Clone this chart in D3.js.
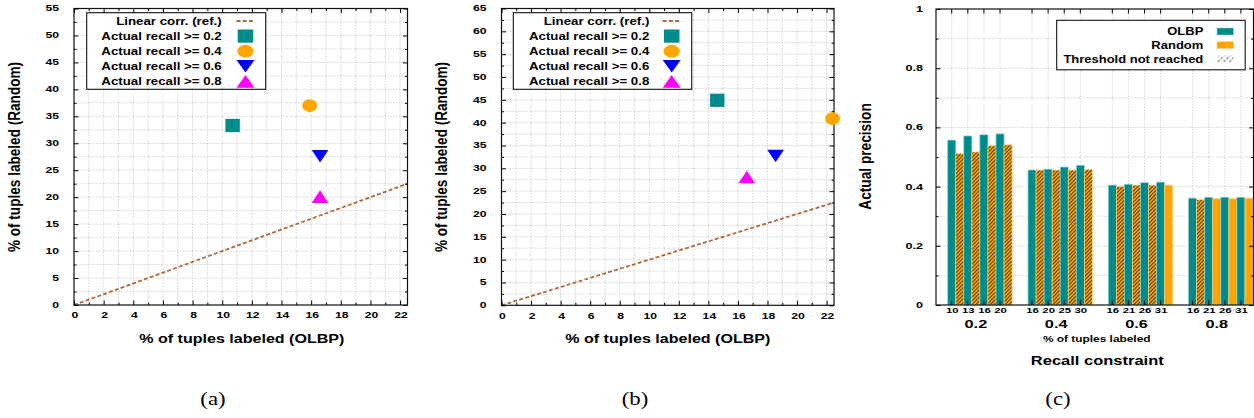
<!DOCTYPE html>
<html><head><meta charset="utf-8">
<script src="https://cdn.jsdelivr.net/npm/d3@7"></script>
<style>
html,body{margin:0;padding:0;background:#fff;}
svg{display:block;}
text{font-family:"Liberation Sans",Arial,Helvetica,sans-serif;fill:#000;}
</style></head><body>
<svg id="chart" width="1254" height="418"></svg>
<script>
// ---------------- data ----------------
const refLabel = "Linear corr. (ref.)";
const scatterLabels = ["Actual recall >= 0.2","Actual recall >= 0.4","Actual recall >= 0.6","Actual recall >= 0.8"];
const scatterShapes = ["square","circle","triDown","triUp"];
const scatterColors = ["#008B8B","#FFA500","#0000FF","#FF00FF"];
// panel (a)
const aOLBP   = [10.7, 15.9, 16.6, 16.6];
const aRandom = [33.3, 37.0, 27.6, 20.1];
// panel (b)
const bOLBP   = [14.6, 22.4, 18.55, 16.6];
const bRandom = [44.9, 40.9, 32.7, 28.1];
// reference line y = x
const refX = [0, 22.5];
const xTicksAB = [0,2,4,6,8,10,12,14,16,18,20,22];
const yTicksA = [0,5,10,15,20,25,30,35,40,45,50,55];
const yTicksB = [0,5,10,15,20,25,30,35,40,45,50,55,60,65];
// panel (c)
const recallGroups = ["0.2","0.4","0.6","0.8"];
const pctLabeled = [["10","13","16","20"],["16","20","25","30"],["16","21","26","31"],["16","21","26","31"]];
const precOLBP = [[0.557,0.571,0.575,0.578],[0.456,0.459,0.466,0.472],[0.405,0.408,0.413,0.415],[0.361,0.364,0.364,0.364]];
const precRandom = [[0.512,0.517,0.538,0.541],[0.456,0.456,0.456,0.458],[0.400,0.405,0.405,0.405],[0.356,0.359,0.359,0.361]];
const notReached = [[1,1,1,1],[1,1,1,1],[1,1,1,0],[1,0,0,0]];
const yTicksC = [0,0.2,0.4,0.6,0.8,1];
const yTickLabelsC = ["0","0.2","0.4","0.6","0.8","1"];
const seriesC = ["OLBP","Random","Threshold not reached"];

// ---------------- helpers ----------------
const svg = d3.select("#chart");
const defs = svg.append("defs");
const hatch = defs.append("pattern").attr("id","hatch").attr("patternUnits","userSpaceOnUse")
  .attr("width",2.6).attr("height",2.6).attr("patternTransform","rotate(45)");
hatch.append("rect").attr("width",2.6).attr("height",2.6).attr("fill","#FFA500");
hatch.append("line").attr("x1",0.5).attr("y1",0).attr("x2",0.5).attr("y2",2.6).attr("stroke","#1a1a1a").attr("stroke-width",0.8);
const hatchL = defs.append("pattern").attr("id","hatchL").attr("patternUnits","userSpaceOnUse")
  .attr("width",4).attr("height",4).attr("patternTransform","rotate(45)");
hatchL.append("rect").attr("width",4).attr("height",4).attr("fill","#fff");
hatchL.append("line").attr("x1",1).attr("y1",0).attr("x2",1).attr("y2",2.5).attr("stroke","#444").attr("stroke-width",1);

function label(g, x, y, s, o) {
  o = o || {};
  const sx = o.sx === undefined ? 1.33 : o.sx;
  return g.append("text")
    .attr("transform", `translate(${x},${y}) scale(${sx},1)` + (o.rot ? ` rotate(${o.rot})` : ""))
    .attr("text-anchor", o.anchor || "middle").attr("dy", "0.35em")
    .attr("font-size", o.size || 10).attr("font-weight", o.weight || "bold")
    .style("font-family", o.family || null).text(s);
}
function styleAxis(sel) {
  sel.select(".domain").remove();
  sel.selectAll(".tick line").attr("stroke","#000").attr("stroke-width",1);
}
const gridStyle = s => s.attr("stroke","#bdbdbd").attr("stroke-width",0.8).attr("stroke-dasharray","1.2,1.6");

function symbolPath(shape, w, h) {
  const a = w/2, b = h/2;
  if (shape === "triDown") return `M${-a},${-b}L${a},${-b}L0,${b}Z`;
  if (shape === "triUp") return `M${-a},${b}L${a},${b}L0,${-b}Z`;
  return "";
}
function drawSymbol(g, shape, cx, cy, color, big) {
  const k = big ? 1.08 : 1;
  if (shape === "square") g.append("rect").attr("x", cx-7.2*k).attr("y", cy-6.6).attr("width",14.4*k).attr("height",13.2).attr("fill",color);
  else if (shape === "circle") g.append("ellipse").attr("cx",cx).attr("cy",cy).attr("rx",7.5*k).attr("ry",6.4).attr("fill",color);
  else g.append("path").attr("transform",`translate(${cx},${cy})`).attr("d", symbolPath(shape, 16.7*k, 12.6)).attr("fill",color);
}

// ---------------- scatter panels ----------------
function scatter(c) {
  const g = svg.append("g");
  const x = d3.scaleLinear().domain([0, 22.5]).range([c.L, c.R]);
  const y = d3.scaleLinear().domain([0, c.yMax]).range([c.B, c.T]);
  // grid
  g.append("g").selectAll("line").data(d3.range(1, 23, 1)).join("line")
    .attr("x1", d => x(d)).attr("x2", d => x(d)).attr("y1", c.T).attr("y2", c.B).call(gridStyle);
  g.append("g").selectAll("line").data(d3.range(2.5, c.yMax, 2.5)).join("line")
    .attr("y1", d => y(d)).attr("y2", d => y(d)).attr("x1", c.L).attr("x2", c.R).call(gridStyle);
  // reference line
  g.append("path").datum(refX)
    .attr("d", d3.line().x(d => x(d)).y(d => y(d)))
    .attr("stroke","#b0693a").attr("stroke-width",1.8).attr("stroke-dasharray","4,2.2").attr("fill","none");
  // legend
  const lg = g.append("g");
  lg.append("rect").attr("x", c.lx0).attr("y", 12.7).attr("width", c.lx1 - c.lx0).attr("height", 76.6)
    .attr("fill","#fff").attr("stroke","#111").attr("stroke-width",1.1);
  const rowY = i => 21 + i*15.1;
  label(lg, c.ltx, rowY(0), refLabel, {anchor:"end", size:10});
  lg.append("line").attr("x1", c.lsx-9).attr("x2", c.lsx+9).attr("y1", rowY(0)).attr("y2", rowY(0))
    .attr("stroke","#b0693a").attr("stroke-width",1.8).attr("stroke-dasharray","4,2.2");
  scatterLabels.forEach((s, i) => {
    label(lg, c.ltx, rowY(i+1), s, {anchor:"end", size:10});
    drawSymbol(lg, scatterShapes[i], c.lsx, rowY(i+1), scatterColors[i], true);
  });
  // border
  g.append("rect").attr("x", c.L).attr("y", c.T).attr("width", c.R - c.L).attr("height", c.B - c.T)
    .attr("fill","none").attr("stroke","#111").attr("stroke-width",1.2);
  // ticks (inward, mirrored)
  const minX = d3.range(1, 23, 2), minY = d3.range(2.5, c.yMax, 5);
  g.append("g").attr("transform",`translate(0,${c.B})`).call(d3.axisBottom(x).tickValues(xTicksAB).tickSize(-4.5).tickFormat("")).call(styleAxis);
  g.append("g").attr("transform",`translate(0,${c.B})`).call(d3.axisBottom(x).tickValues(minX).tickSize(-2.5).tickFormat("")).call(styleAxis);
  g.append("g").attr("transform",`translate(0,${c.T})`).call(d3.axisTop(x).tickValues(xTicksAB).tickSize(-4.5).tickFormat("")).call(styleAxis);
  g.append("g").attr("transform",`translate(0,${c.T})`).call(d3.axisTop(x).tickValues(minX).tickSize(-2.5).tickFormat("")).call(styleAxis);
  g.append("g").attr("transform",`translate(${c.L},0)`).call(d3.axisLeft(y).tickValues(c.yTicks).tickSize(-4.5).tickFormat("")).call(styleAxis);
  g.append("g").attr("transform",`translate(${c.L},0)`).call(d3.axisLeft(y).tickValues(minY).tickSize(-2.5).tickFormat("")).call(styleAxis);
  g.append("g").attr("transform",`translate(${c.R},0)`).call(d3.axisRight(y).tickValues(c.yTicks).tickSize(-4.5).tickFormat("")).call(styleAxis);
  g.append("g").attr("transform",`translate(${c.R},0)`).call(d3.axisRight(y).tickValues(minY).tickSize(-2.5).tickFormat("")).call(styleAxis);
  // points
  c.xs.forEach((v, i) => drawSymbol(g, scatterShapes[i], x(v), y(c.ys[i]), scatterColors[i], false));
  // tick labels
  xTicksAB.forEach(v => label(g, x(v) + 1, c.B + 10.5, String(v), {size:8.4, sx:1.45}));
  c.yTicks.forEach(v => label(g, c.L - 15, y(v), String(v), {anchor:"end", size:8.4, sx:1.45}));
  // titles
  label(g, c.xtx, 339, "% of tuples labeled (OLBP)", {size:12, sx:1.34});
  label(g, c.ytx, 157, "% of tuples labeled (Random)", {size:13.6, sx:1.15, rot:-90});
  label(g, c.capx, 398, c.cap, {size:19, sx:1.2, weight:"normal", family:"'Liberation Serif','DejaVu Serif',serif"});
}

scatter({L:74, R:407.5, T:8.5, B:305, yMax:55, yTicks:yTicksA, xs:aOLBP, ys:aRandom,
  lx0:86.7, lx1:265.7, ltx:221.7, lsx:245.5, xtx:241.8, ytx:15, capx:213, cap:"(a)"});
scatter({L:501.5, R:834, T:8.5, B:305.3, yMax:65, yTicks:yTicksB, xs:bOLBP, ys:bRandom,
  lx0:513.3, lx1:691.7, ltx:649.3, lsx:671.7, xtx:667.8, ytx:442, capx:635, cap:"(b)"});

// ---------------- bar panel (c) ----------------
(function() {
  const L = 936, R = 1253.5, T = 9, B = 305;
  const g = svg.append("g");
  const y = d3.scaleLinear().domain([0, 1]).range([B, T]);
  const xg = d3.scaleBand().domain(recallGroups).range([947.7, 1253]).paddingInner(0.198).paddingOuter(0);
  const xi = d3.scaleBand().domain([0,1,2,3]).range([0, xg.bandwidth()]);
  const bw = xi.bandwidth() / 2;
  const tickPos = [];
  recallGroups.forEach((grp, gi) => pctLabeled[gi].forEach((p, i) => tickPos.push(xg(grp) + xi(i) + bw/2)));
  // grid
  g.append("g").selectAll("line").data(d3.range(1, 10).map(d => d/10)).join("line")
    .attr("y1", d => y(d)).attr("y2", d => y(d)).attr("x1", L).attr("x2", R).call(gridStyle);
  g.append("g").selectAll("line").data(tickPos).join("line")
    .attr("x1", d => d).attr("x2", d => d).attr("y1", T).attr("y2", B).call(gridStyle);
  // bars
  recallGroups.forEach((grp, gi) => {
    pctLabeled[gi].forEach((p, i) => {
      const x0 = xg(grp) + xi(i);
      g.append("rect").attr("x", x0).attr("y", y(precOLBP[gi][i])).attr("width", bw).attr("height", y(0) - y(precOLBP[gi][i]))
        .attr("fill","#008B8B").attr("stroke","#8fd0d0").attr("stroke-width",0.7);
      g.append("rect").attr("x", x0 + bw).attr("y", y(precRandom[gi][i])).attr("width", bw).attr("height", y(0) - y(precRandom[gi][i]))
        .attr("fill", notReached[gi][i] ? "url(#hatch)" : "#FFA500").attr("stroke","#ffd58a").attr("stroke-width",0.7);
    });
  });
  // legend
  const lg = g.append("g");
  lg.append("rect").attr("x",1056.7).attr("y",20.3).attr("width",188.5).attr("height",49.5)
    .attr("fill","#fff").attr("stroke","#111").attr("stroke-width",1.1);
  const ly = [31.5, 45.2, 59.2];
  const fills = ["#008B8B","#FFA500","url(#hatchL)"];
  seriesC.forEach((s, i) => {
    label(lg, 1203.3, ly[i], s, {anchor:"end", size:10, sx:1.3});
    lg.append("rect").attr("x",1217).attr("y",ly[i]-3.5).attr("width",16.5).attr("height",7).attr("fill",fills[i])
      .attr("stroke", i === 0 ? "#8fd0d0" : (i === 1 ? "#ffd58a" : "none")).attr("stroke-width",0.6);
  });
  // border
  g.append("rect").attr("x", L).attr("y", T).attr("width", R - L).attr("height", B - T)
    .attr("fill","none").attr("stroke","#111").attr("stroke-width",1.2);
  // ticks
  const minY = [0.1,0.3,0.5,0.7,0.9];
  g.append("g").attr("transform",`translate(${L},0)`).call(d3.axisLeft(y).tickValues(yTicksC).tickSize(-4.5).tickFormat("")).call(styleAxis);
  g.append("g").attr("transform",`translate(${L},0)`).call(d3.axisLeft(y).tickValues(minY).tickSize(-2.5).tickFormat("")).call(styleAxis);
  g.append("g").attr("transform",`translate(${R},0)`).call(d3.axisRight(y).tickValues(yTicksC).tickSize(-4.5).tickFormat("")).call(styleAxis);
  g.append("g").attr("transform",`translate(${R},0)`).call(d3.axisRight(y).tickValues(minY).tickSize(-2.5).tickFormat("")).call(styleAxis);
  g.append("g").selectAll("line").data(tickPos).join("line")
    .attr("x1", d => d).attr("x2", d => d).attr("y1", T).attr("y2", T + 4.5).attr("stroke","#000");
  g.append("g").selectAll("line").data(tickPos).join("line")
    .attr("x1", d => d).attr("x2", d => d).attr("y1", B).attr("y2", B - 4.5).attr("stroke","#000");
  // labels
  yTicksC.forEach((v, i) => label(g, 923, y(v), yTickLabelsC[i], {anchor:"end", size:8.7, sx:1.45}));
  recallGroups.forEach((grp, gi) => {
    pctLabeled[gi].forEach((p, i) => label(g, xg(grp) + xi(i) + bw/2 + 0.5, 310.7, p, {size:7.8, sx:1.45}));
    const cx = xg(grp) + (xi(0) + xi(3)) / 2 + bw/2;
    label(g, cx, 323.5, grp, {size:11.5, sx:1.42});
  });
  label(g, 1096.7, 339, "% of tuples labeled", {size:8.5, sx:1.4});
  label(g, 1097.3, 360, "Recall constraint", {size:13, sx:1.27});
  label(g, 865.5, 156.5, "Actual precision", {size:13.7, sx:1.15, rot:-90});
  label(g, 1058, 398, "(c)", {size:19, sx:1.2, weight:"normal", family:"'Liberation Serif','DejaVu Serif',serif"});
})();
</script>
</body></html>
